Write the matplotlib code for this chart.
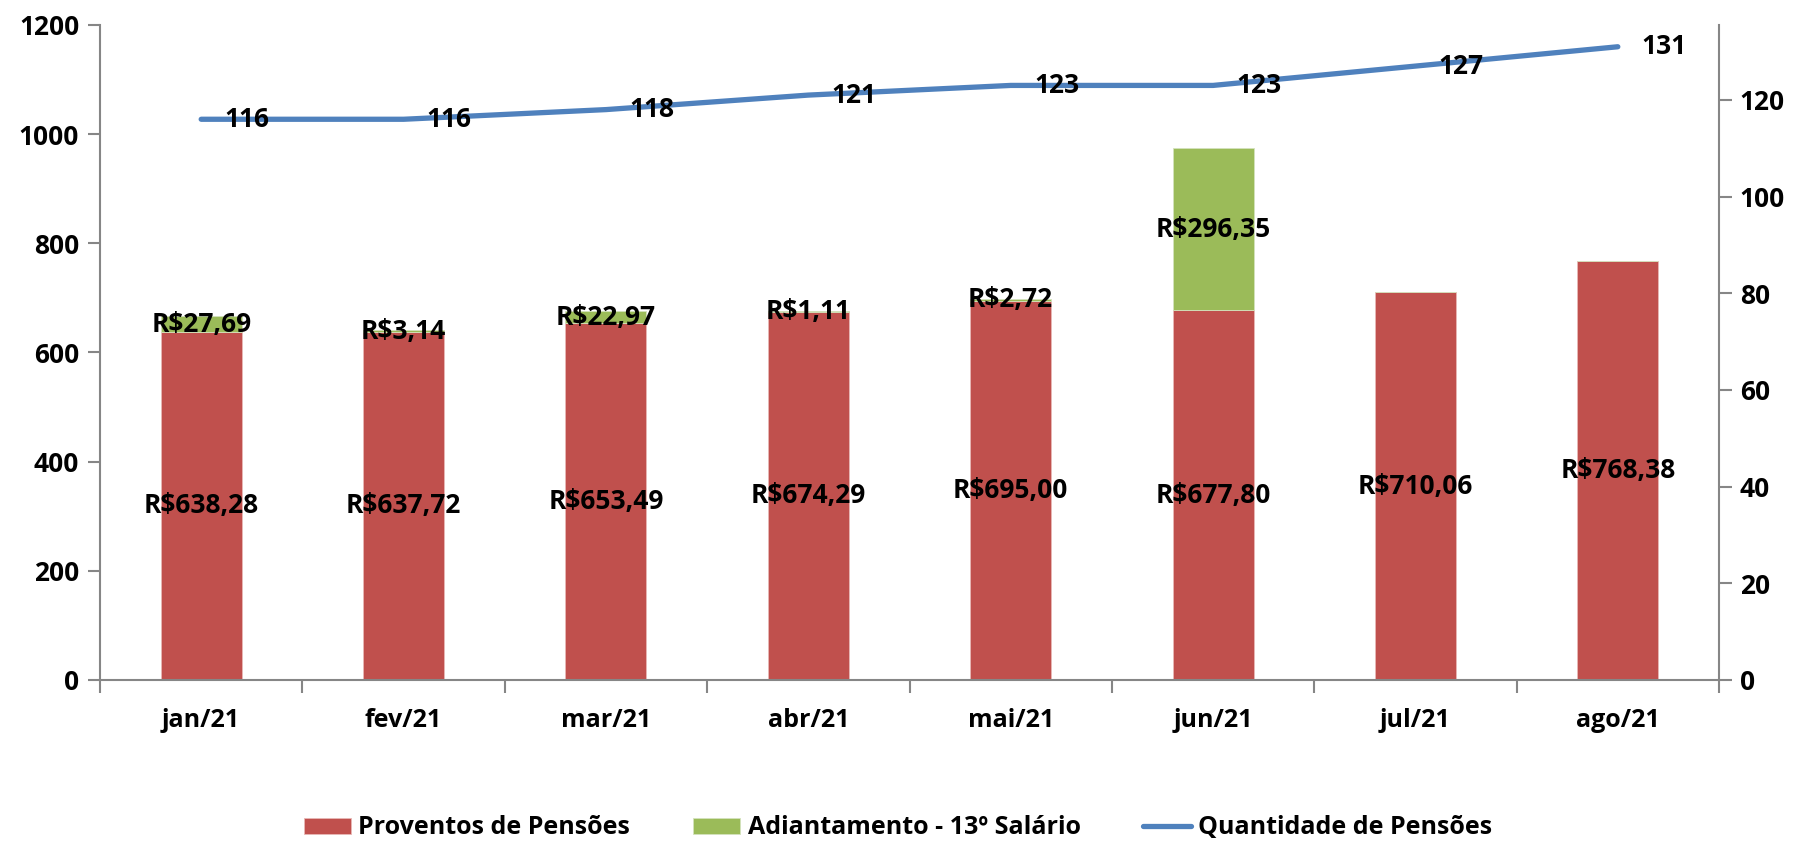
import numpy as np
import matplotlib
matplotlib.use('Agg')
import matplotlib.pyplot as plt
from matplotlib.ticker import FixedLocator

plt.rcParams['font.family'] = ['Open Sans', 'DejaVu Sans']
plt.rcParams['font.weight'] = 'bold'

# data
meses = ['jan/21', 'fev/21', 'mar/21', 'abr/21', 'mai/21', 'jun/21', 'jul/21', 'ago/21']
proventos = [638.28, 637.72, 653.49, 674.29, 695.00, 677.80, 710.06, 768.38]
adiantamento = [27.69, 3.14, 22.97, 1.11, 2.72, 296.35, 0, 0]
quantidade = [116, 116, 118, 121, 123, 123, 127, 131]

red = '#C0504D'
green = '#9BBB59'
blue = '#4F81BD'
grey = '#868686'
fs = 18
fl = 19

def brl(v):
    return 'R$' + ('%.2f' % v).replace('.', ',')

fig = plt.figure(figsize=(17.96, 8.42), dpi=100)
ax = fig.add_axes([100/1796, 1-680/842, (1719-100)/1796, (680-25)/842])
ax2 = ax.twinx()

x = np.arange(len(meses))
w = 0.4
b1 = ax.bar(x, proventos, w, color=red, edgecolor='#e8b8b6', linewidth=0.6,
            label='Proventos de Pensões', zorder=2)
b2 = ax.bar(x, adiantamento, w, bottom=proventos, color=green, edgecolor='#d4e3bd',
            linewidth=0.6, label='Adiantamento - 13º Salário', zorder=2)

for i in range(len(x)):
    ax.text(x[i], proventos[i]/2, brl(proventos[i]), ha='center', va='center',
            fontsize=fl, fontweight='bold', zorder=5)
    if adiantamento[i] > 0:
        ax.text(x[i], proventos[i] + adiantamento[i]/2, brl(adiantamento[i]),
                ha='center', va='center', fontsize=fl, fontweight='bold', zorder=5)

ln, = ax2.plot(x, quantidade, color=blue, lw=3.8, solid_capstyle='round',
               label='Quantidade de Pensões', zorder=3)
for i in range(len(x)):
    ax2.annotate(str(quantidade[i]), (x[i], quantidade[i]), xytext=(33, 0),
                 textcoords='offset points', ha='center', va='center',
                 fontsize=fl, fontweight='bold')

ax.set_xlim(-0.5, len(meses) - 0.5)
ax.set_ylim(0, 1200)
ax.set_yticks(np.arange(0, 1201, 200))
ax2.set_ylim(0, 135.5)
ax2.set_yticks(np.arange(0, 121, 20))

# category ticks at the boundaries, labels at the centres
ax.xaxis.set_major_locator(FixedLocator(np.arange(-0.5, len(meses), 1.0)))
ax.xaxis.set_major_formatter(plt.NullFormatter())
ax.set_xticks(x, minor=True)
ax.set_xticklabels(meses, minor=True)
ax.tick_params(axis='x', which='major', length=9, width=1.5, color=grey)
ax.tick_params(axis='x', which='minor', length=0, pad=20, labelsize=fs)

ax.tick_params(axis='y', length=9, width=1.5, color=grey, labelsize=fs + 1, pad=6)
ax2.tick_params(axis='y', length=9, width=1.5, color=grey, labelsize=fs + 1, pad=6)

for a in (ax, ax2):
    for s in a.spines.values():
        s.set_visible(False)
ax.spines['left'].set_visible(True)
ax.spines['bottom'].set_visible(True)
ax2.spines['right'].set_visible(True)
for s in (ax.spines['left'], ax.spines['bottom'], ax2.spines['right']):
    s.set_color(grey)
    s.set_linewidth(1.5)

for t in ax.get_xticklabels(minor=True) + ax.get_yticklabels() + ax2.get_yticklabels():
    t.set_fontweight('bold')

fig.legend([b1, b2, ln], ['Proventos de Pensões', 'Adiantamento - 13º Salário', 'Quantidade de Pensões'],
           loc='center', bbox_to_anchor=(0.5, 1-828/842), ncol=3, frameon=False,
           prop={'size': fs, 'weight': 'bold'}, handlelength=1.9, handleheight=0.6,
           handletextpad=0.3, columnspacing=2.5)

plt.savefig('out.png', dpi=100)
